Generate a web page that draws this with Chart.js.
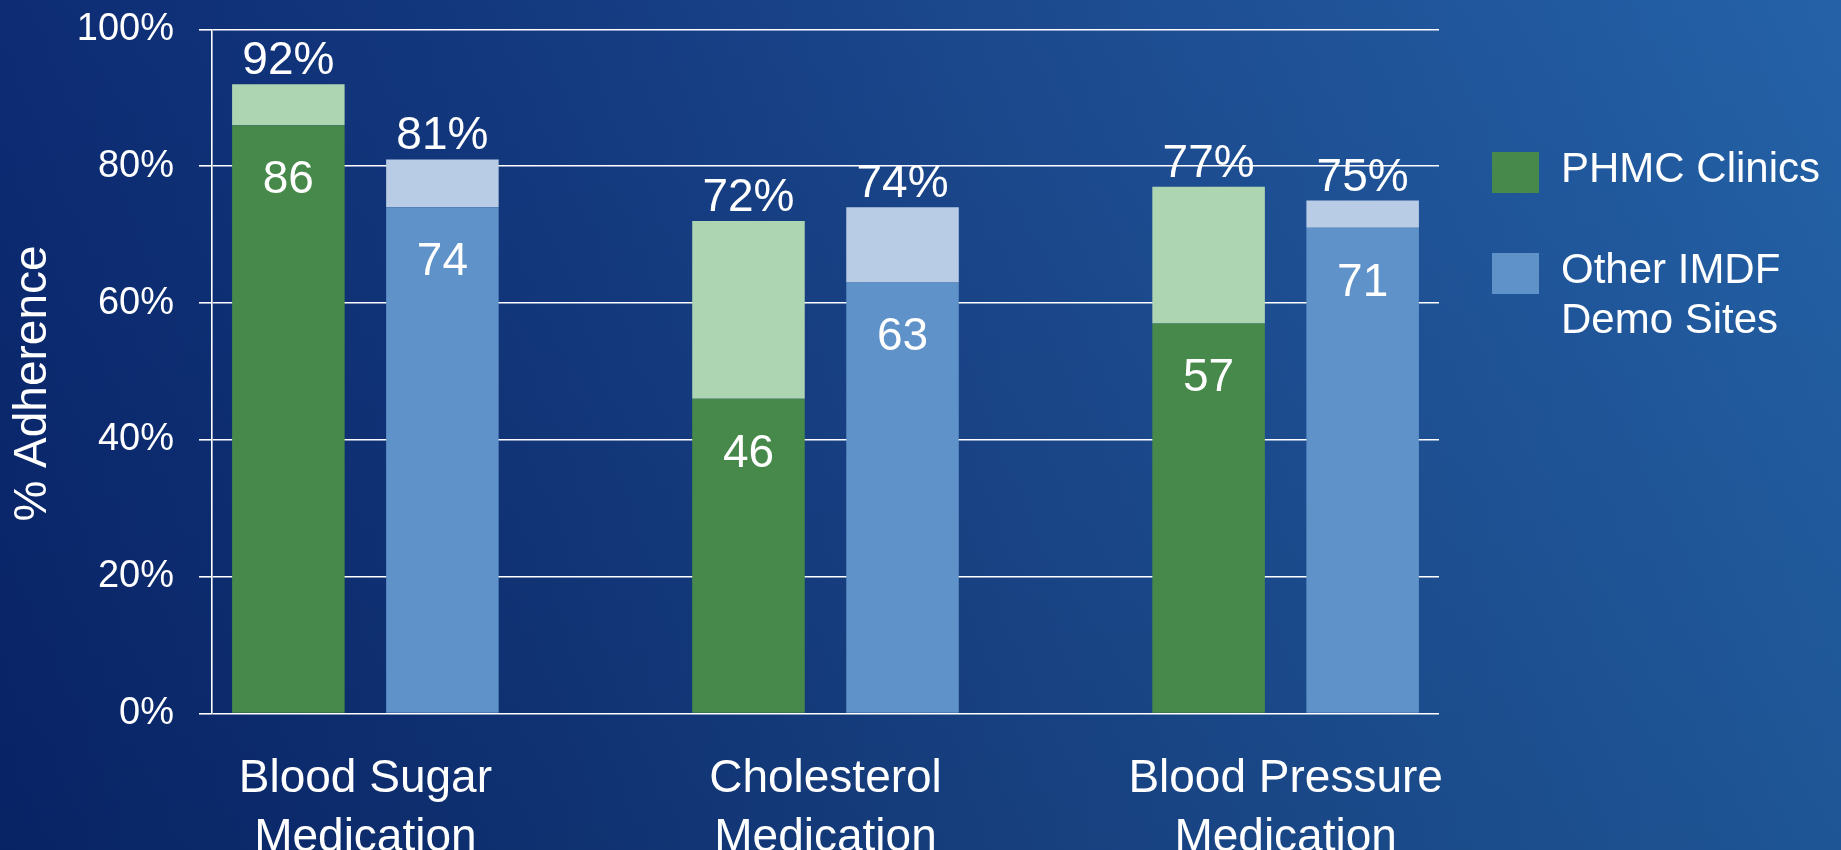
<!DOCTYPE html>
<html>
<head>
<meta charset="utf-8">
<script src="https://cdn.jsdelivr.net/npm/chart.js@4"></script>
<style>
  html, body { margin: 0; padding: 0; }
  body {
    width: 1841px; height: 850px; overflow: hidden;
    background:
      linear-gradient(to bottom, rgba(40,60,130,0.10) 0%, rgba(0,0,30,0.16) 100%),
      linear-gradient(to right, #0a2a72 0%, #123a80 30%, #1b4b90 55%, #2466ac 100%);
  }
  #wrap { position: absolute; left: 0; top: 0; width: 1841px; height: 850px; }
</style>
</head>
<body>
<div id="wrap"><canvas id="c" width="1841" height="850"></canvas></div>
<script>
// ---- data ----
const categories = [["Blood Sugar", "Medication"], ["Cholesterol", "Medication"], ["Blood Pressure", "Medication"]];
const phmcBase   = [86, 46, 57];   // dark green segment values
const phmcTotal  = [92, 72, 77];   // total (top labels)
const otherBase  = [74, 63, 71];   // dark blue segment values
const otherTotal = [81, 74, 75];   // total (top labels)
const yTicks = [0, 20, 40, 60, 80, 100];
const seriesNames = [["PHMC Clinics"], ["Other IMDF", "Demo Sites"]];
const yTitle = '% Adherence';

const FONT = "'Liberation Sans', Arial, sans-serif";
const C_GREEN = '#47894b', C_GREEN_L = '#aed5b2', C_BLUE = '#5e92c8', C_BLUE_L = '#b8cce5';

const pts = arr => arr.map((v, i) => ({ x: i, y: v }));
const diff = (tot, base) => tot.map((t, i) => t - base[i]);

const labelPlugin = {
  id: 'labels',
  afterDatasetsDraw(chart) {
    const ctx = chart.ctx;
    ctx.save();
    ctx.fillStyle = '#ffffff';
    ctx.textAlign = 'center';
    ctx.font = '46px ' + FONT;
    const pairs = [[0, 1, phmcBase, phmcTotal], [2, 3, otherBase, otherTotal]];
    pairs.forEach(([bi, ti, base, tot]) => {
      const mb = chart.getDatasetMeta(bi), mt = chart.getDatasetMeta(ti);
      mb.data.forEach((el, i) => {
        ctx.textBaseline = 'middle';
        ctx.fillText(String(base[i]), el.x, el.y + 55);
        const top = mt.data[i];
        ctx.textBaseline = 'alphabetic';
        ctx.fillText(tot[i] + '%', top.x, top.y - 10);
      });
    });
    // y axis title
    const ca = chart.chartArea;
    ctx.translate(33, (ca.top + ca.bottom) / 2 + 12);
    ctx.rotate(-Math.PI / 2);
    ctx.textBaseline = 'middle';
    ctx.fillText(yTitle, 0, 0);
    ctx.restore();
  }
};

const legendPlugin = {
  id: 'customLegend',
  afterDraw(chart) {
    const ctx = chart.ctx;
    ctx.save();
    const colors = [C_GREEN, C_BLUE];
    const boxX = 1492, textX = 1561;
    const boxTops = [152, 253];
    ctx.font = '42px ' + FONT;
    ctx.textAlign = 'left';
    ctx.textBaseline = 'alphabetic';
    seriesNames.forEach((lines, k) => {
      ctx.fillStyle = colors[k];
      ctx.fillRect(boxX, boxTops[k], 47, 41);
      ctx.fillStyle = '#ffffff';
      lines.forEach((ln, j) => ctx.fillText(ln, textX, boxTops[k] + 30 + j * 50));
    });
    ctx.restore();
  }
};

new Chart(document.getElementById('c'), {
  type: 'bar',
  data: {
    datasets: [
      { label: 'PHMC Clinics', data: pts(phmcBase), backgroundColor: C_GREEN, stack: 'phmc' },
      { label: 'PHMC Clinics top', data: pts(diff(phmcTotal, phmcBase)), backgroundColor: C_GREEN_L, stack: 'phmc' },
      { label: 'Other IMDF Demo Sites', data: pts(otherBase), backgroundColor: C_BLUE, stack: 'other' },
      { label: 'Other IMDF Demo Sites top', data: pts(diff(otherTotal, otherBase)), backgroundColor: C_BLUE_L, stack: 'other' }
    ]
  },
  options: {
    responsive: false,
    animation: false,
    events: [],
    categoryPercentage: 0.6696,
    barPercentage: 0.7305,
    layout: { padding: { left: 0, right: 402, top: 29.5, bottom: 0 } },
    plugins: { legend: { display: false }, tooltip: { enabled: false } },
    scales: {
      x: {
        type: 'linear',
        min: -1 / 3,
        max: 7 / 3,
        offset: false,
        afterBuildTicks: axis => { axis.ticks = categories.map((_, i) => ({ value: i })); },
        afterFit: axis => { axis.height = 136.5; },
        grid: { display: false, drawTicks: false },
        border: { display: false },
        ticks: {
          color: '#ffffff',
          font: { family: FONT, size: 46, lineHeight: 1.27 },
          padding: 37,
          maxRotation: 0,
          autoSkip: false,
          callback: v => categories[v]
        }
      },
      y: {
        stacked: true,
        min: 0,
        max: 100,
        afterBuildTicks: axis => { axis.ticks = yTicks.map(v => ({ value: v })); },
        afterFit: axis => { axis.width = 212; axis.paddingTop = 0; axis.paddingBottom = 0; },
        grid: { color: '#ffffff', lineWidth: 1.6, tickLength: 13, drawTicks: true },
        border: { display: true, color: '#ffffff', width: 1.6 },
        ticks: {
          color: '#ffffff',
          font: { family: FONT, size: 38 },
          padding: 25,
          callback: v => v + '%'
        },
        title: { display: false }
      }
    }
  },
  plugins: [labelPlugin, legendPlugin]
});
</script>
</body>
</html>
